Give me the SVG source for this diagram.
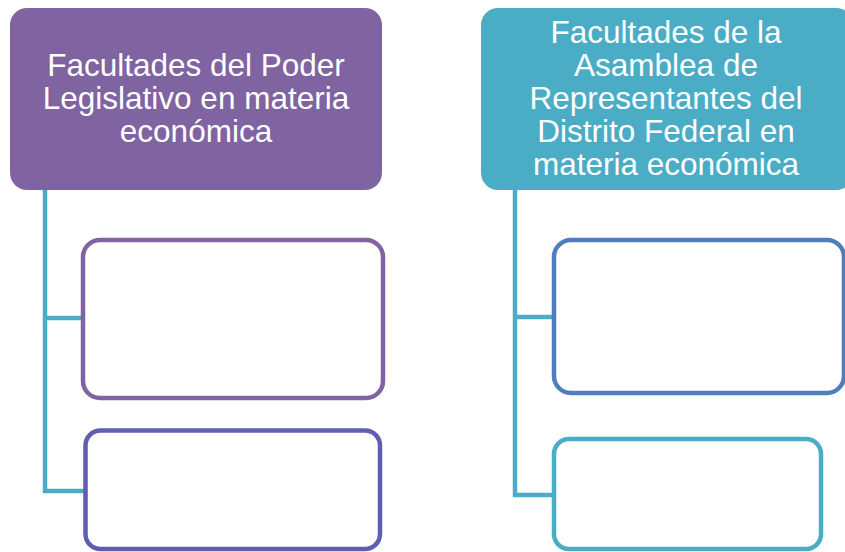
<svg xmlns="http://www.w3.org/2000/svg" width="845" height="552" viewBox="0 0 845 552">
<style>
.t{font-family:"Liberation Sans",Arial,sans-serif;font-size:31.5px;fill:#ffffff;text-anchor:middle}
.c{fill:none;stroke:#4BACC6;stroke-width:4.5;stroke-linejoin:miter}
.b{fill:#ffffff;stroke-width:4.5}
</style>
<rect width="845" height="552" fill="#ffffff"/>
<g id="connectors">
<path class="c" d="M45,190 V491 H86 M45,318 H84"/>
<path class="c" d="M515,190 V495 H556 M515,317 H556"/>
</g>
<g id="left-head">
<rect x="10" y="8" width="372" height="182" rx="17" fill="#8064A2"/>
<text class="t" x="196" y="76">Facultades del Poder</text>
<text class="t" x="196" y="109">Legislativo en materia</text>
<text class="t" x="196" y="142">económica</text>
</g>
<g id="left-box1">
<rect class="b" x="83" y="240" width="300" height="158" rx="17" stroke="#8064A2"/>
</g>
<g id="left-box2">
<rect class="b" x="85.5" y="430.5" width="294.5" height="118.5" rx="15" stroke="#5F5EAF"/>
</g>
<g id="right-head">
<rect x="481" y="8" width="372" height="182" rx="17" fill="#4BACC6"/>
<text class="t" x="666" y="43">Facultades de la</text>
<text class="t" x="666" y="76">Asamblea de</text>
<text class="t" x="666" y="109">Representantes del</text>
<text class="t" x="666" y="142">Distrito Federal en</text>
<text class="t" x="666" y="175">materia económica</text>
</g>
<g id="right-box1">
<rect class="b" x="554" y="240" width="290" height="153" rx="17" stroke="#4F7EBE"/>
</g>
<g id="right-box2">
<rect class="b" x="554" y="439" width="267" height="110" rx="15" stroke="#4BACC6"/>
</g>
</svg>
